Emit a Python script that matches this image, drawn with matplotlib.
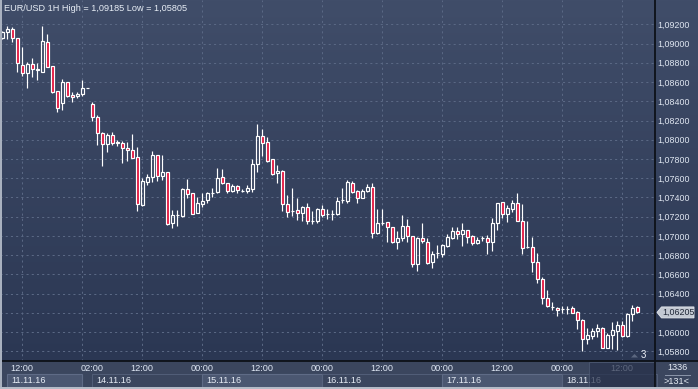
import numpy as np
import matplotlib
matplotlib.use('Agg')
import matplotlib.pyplot as plt
from matplotlib.patches import Rectangle, Polygon
from matplotlib.transforms import blended_transform_factory

plt.rcParams['font.family'] = ['Liberation Sans', 'DejaVu Sans']

# ---------------- data (EUR/USD 1H) ----------------
opens = [1.09054, 1.09117, 1.09151, 1.09054, 1.08777, 1.08690, 1.08784, 1.08735, 1.08708, 1.09013,
         1.08767, 1.08507, 1.08378, 1.08597, 1.08465, 1.08451, 1.08472, 1.08538, 1.08371, 1.08233,
         1.08066, 1.07952, 1.08049, 1.07973, 1.07969, 1.07910, 1.07893, 1.07817, 1.07321, 1.07564,
         1.07609, 1.07841, 1.07626, 1.07661, 1.07130, 1.07217, 1.07210, 1.07487, 1.07442, 1.07241,
         1.07331, 1.07373, 1.07449, 1.07453, 1.07609, 1.07546, 1.07470, 1.07519, 1.07470, 1.07463,
         1.07491, 1.07744, 1.08039, 1.07973, 1.07796, 1.07650, 1.07675, 1.07328, 1.07259, 1.07269,
         1.07234, 1.07297, 1.07155, 1.07158, 1.07276, 1.07224, 1.07224, 1.07224, 1.07370, 1.07367,
         1.07546, 1.07467, 1.07397, 1.07463, 1.07505, 1.07033, 1.07130, 1.07141, 1.07089, 1.06933,
         1.06974, 1.07103, 1.06999, 1.06704, 1.06974, 1.06940, 1.06725, 1.06818, 1.06811, 1.06898,
         1.06981, 1.07051, 1.07016, 1.07061, 1.06999, 1.06922, 1.06974, 1.06981, 1.06933, 1.07130,
         1.07349, 1.07224, 1.07279, 1.07338, 1.07155, 1.06884, 1.06888, 1.06732, 1.06548, 1.06357,
         1.06264, 1.06253, 1.06236, 1.06236, 1.06246, 1.06205, 1.06125, 1.05924, 1.05962, 1.06014,
         1.06045, 1.05837, 1.05969, 1.06014, 1.06073, 1.05962, 1.06184, 1.06257]
highs = [1.09131, 1.09185, 1.09169, 1.09061, 1.08968, 1.08812, 1.08853, 1.08794, 1.09180, 1.09099,
         1.08767, 1.08507, 1.08631, 1.08597, 1.08493, 1.08493, 1.08621, 1.08538, 1.08389, 1.08257,
         1.08084, 1.08066, 1.08077, 1.07997, 1.07987, 1.07980, 1.08056, 1.07921, 1.07598, 1.07640,
         1.07882, 1.07841, 1.07841, 1.07661, 1.07269, 1.07269, 1.07494, 1.07591, 1.07442, 1.07408,
         1.07442, 1.07459, 1.07501, 1.07709, 1.07692, 1.07546, 1.07539, 1.07529, 1.07484, 1.07529,
         1.07796, 1.08164, 1.08108, 1.08025, 1.07796, 1.07737, 1.07685, 1.07425, 1.07494, 1.07390,
         1.07311, 1.07338, 1.07259, 1.07286, 1.07321, 1.07276, 1.07269, 1.07401, 1.07494, 1.07581,
         1.07574, 1.07477, 1.07484, 1.07539, 1.07553, 1.07283, 1.07283, 1.07141, 1.07089, 1.07054,
         1.07217, 1.07172, 1.06999, 1.06992, 1.07130, 1.06974, 1.06846, 1.06905, 1.06912, 1.07016,
         1.07096, 1.07089, 1.07130, 1.07061, 1.07009, 1.06992, 1.06999, 1.07009, 1.07189, 1.07338,
         1.07349, 1.07321, 1.07373, 1.07442, 1.07328, 1.07155, 1.06992, 1.06818, 1.06576, 1.06437,
         1.06309, 1.06264, 1.06274, 1.06274, 1.06274, 1.06219, 1.06132, 1.06038, 1.06038, 1.06080,
         1.06056, 1.05986, 1.06108, 1.06115, 1.06115, 1.06194, 1.06281, 1.06271]
lows = [1.09047, 1.09047, 1.09020, 1.08701, 1.08666, 1.08534, 1.08656, 1.08621, 1.08708, 1.08760,
        1.08482, 1.08292, 1.08309, 1.08448, 1.08389, 1.08430, 1.08458, 1.08537, 1.08194, 1.07945,
        1.07722, 1.07876, 1.07945, 1.07938, 1.07761, 1.07782, 1.07806, 1.07258, 1.07314, 1.07529,
        1.07564, 1.07574, 1.07581, 1.07113, 1.07078, 1.07106, 1.07200, 1.07397, 1.07224, 1.07234,
        1.07303, 1.07345, 1.07408, 1.07442, 1.07539, 1.07442, 1.07460, 1.07442, 1.07460, 1.07449,
        1.07460, 1.07668, 1.07834, 1.07772, 1.07633, 1.07553, 1.07262, 1.07193, 1.07207, 1.07165,
        1.07158, 1.07120, 1.07120, 1.07130, 1.07200, 1.07172, 1.07165, 1.07214, 1.07345, 1.07345,
        1.07442, 1.07345, 1.07390, 1.07456, 1.06981, 1.07019, 1.07113, 1.06940, 1.06922, 1.06860,
        1.06950, 1.06940, 1.06680, 1.06639, 1.06922, 1.06707, 1.06669, 1.06766, 1.06784, 1.06888,
        1.06967, 1.06967, 1.06898, 1.06922, 1.06905, 1.06912, 1.06947, 1.06808, 1.06846, 1.07061,
        1.07189, 1.07141, 1.07252, 1.07155, 1.06808, 1.06870, 1.06628, 1.06506, 1.06288, 1.06264,
        1.06229, 1.06170, 1.06194, 1.06187, 1.06194, 1.06028, 1.05805, 1.05872, 1.05924, 1.05952,
        1.05830, 1.05830, 1.05823, 1.05813, 1.05952, 1.05952, 1.06115, 1.06194]
closes = [1.09117, 1.09148, 1.09054, 1.08794, 1.08690, 1.08784, 1.08732, 1.08728, 1.09027, 1.08760,
          1.08500, 1.08326, 1.08597, 1.08458, 1.08444, 1.08475, 1.08534, 1.08537, 1.08233, 1.08066,
          1.07952, 1.08049, 1.07962, 1.07969, 1.07910, 1.07889, 1.07813, 1.07328, 1.07571, 1.07609,
          1.07841, 1.07626, 1.07661, 1.07123, 1.07217, 1.07213, 1.07487, 1.07432, 1.07231, 1.07338,
          1.07366, 1.07442, 1.07446, 1.07605, 1.07546, 1.07470, 1.07519, 1.07477, 1.07471, 1.07494,
          1.07744, 1.08039, 1.07962, 1.07782, 1.07640, 1.07675, 1.07328, 1.07245, 1.07258, 1.07234,
          1.07304, 1.07155, 1.07156, 1.07276, 1.07214, 1.07225, 1.07224, 1.07363, 1.07371, 1.07561,
          1.07460, 1.07390, 1.07467, 1.07505, 1.07026, 1.07130, 1.07131, 1.07089, 1.06933, 1.06974,
          1.07103, 1.06999, 1.06704, 1.06974, 1.06947, 1.06721, 1.06811, 1.06819, 1.06902, 1.06985,
          1.07051, 1.07016, 1.07061, 1.06992, 1.06922, 1.06957, 1.06975, 1.06933, 1.07130, 1.07338,
          1.07224, 1.07286, 1.07338, 1.07155, 1.06870, 1.06885, 1.06725, 1.06548, 1.06350, 1.06271,
          1.06263, 1.06225, 1.06237, 1.06236, 1.06201, 1.06121, 1.05924, 1.05969, 1.06014, 1.06045,
          1.05837, 1.05969, 1.06021, 1.06073, 1.05962, 1.06184, 1.06246, 1.06205]

price_ticks = [1.058, 1.060, 1.062, 1.064, 1.066, 1.068, 1.070, 1.072, 1.074, 1.076,
               1.078, 1.080, 1.082, 1.084, 1.086, 1.088, 1.090, 1.092]
# the 1,06200 label is covered by the current-price tag in the reference
price_labels = ['1,05800', '1,06000', '', '1,06400', '1,06600', '1,06800', '1,07000',
                '1,07200', '1,07400', '1,07600', '1,07800', '1,08000', '1,08200', '1,08400',
                '1,08600', '1,08800', '1,09000', '1,09200']
grid_bars = [4, 16, 28, 40, 52, 64, 76, 88, 100, 112, 124]
time_bars = [4, 18, 28, 40, 52, 64, 76, 88, 100, 112, 124]
time_labels = ['12:00', '02:00', '12:00', '00:00', '12:00', '00:00', '12:00', '00:00',
               '12:00', '00:00', '12:00']
day_labels = ['11.11.16', '14.11.16', '15.11.16', '16.11.16', '17.11.16', '18.11.16']
day_start = [1, 18, 40, 64, 88, 112]
day_end = [16, 40, 64, 88, 112, 131]
title = 'EUR/USD 1H High = 1,09185 Low = 1,05805'

# ---------------- figure layout (pixel based) ----------------
W, H = 698, 389
PLOT_R, PLOT_B = 655, 361
fig = plt.figure(figsize=(W / 100, H / 100), dpi=100)

bg = fig.add_axes([0, 0, 1, 1], zorder=0)
grad = np.linspace(0, 1, 256)[:, None, None]
top_c = np.array([64, 77, 105]) / 255
bot_c = np.array([43, 55, 83]) / 255
img = top_c + (bot_c - top_c) * grad
bg.imshow(img, extent=[0, W, PLOT_B, 0], aspect='auto', zorder=0, interpolation='bilinear')
bg.add_patch(Rectangle((0, PLOT_B), W, H - PLOT_B, facecolor='#3b465e', edgecolor='none', zorder=1))
bg.set_xlim(0, W)
bg.set_ylim(H, 0)
bg.axis('off')

ax = fig.add_axes([0, (H - PLOT_B) / H, PLOT_R / W, PLOT_B / H], zorder=1)
ax.set_facecolor('none')
ax.set_xlim(-0.4, 130.6)
ax.set_ylim(1.05700, 1.094526)
for s in ax.spines.values():
    s.set_visible(False)
ax.set_xticks(grid_bars)
ax.set_yticks(price_ticks)
ax.set_yticklabels(price_labels)
ax.yaxis.tick_right()
ax.tick_params(axis='x', length=0, labelbottom=False)
ax.tick_params(axis='y', length=0, pad=2, labelsize=6.4, labelcolor='#dfe6f1')
ax.grid(True, color='#5a6884', linestyle=(0, (2, 3)), linewidth=0.75)
ax.set_axisbelow(True)

# candles
idx = np.arange(len(opens))
o = np.array(opens); h = np.array(highs); l = np.array(lows); c = np.array(closes)
body_top = np.maximum(o, c)
body_bot = np.minimum(o, c)
ax.vlines(idx, body_top, h, color='white', linewidth=0.85, zorder=3)
ax.vlines(idx, l, body_bot, color='white', linewidth=0.85, zorder=3)
face = ['#e3163f' if cc < oo else 'none' for oo, cc in zip(o, c)]
ax.bar(idx, body_top - body_bot, bottom=body_bot, width=0.6, color=face,
       edgecolor='white', linewidth=0.85, zorder=4)

# ---------------- overlay: axes decorations ----------------
ov = fig.add_axes([0, 0, 1, 1], zorder=3)
ov.set_facecolor('none')
ov.set_xlim(0, W)
ov.set_ylim(H, 0)
ov.axis('off')

bx = blended_transform_factory(ax.transData, ov.transData)

# date boxes
for k, (lab, s, e) in enumerate(zip(day_labels, day_start, day_end)):
    if k % 2 == 0:
        ov.add_patch(Rectangle((s, 374), e - s, 13, transform=bx, facecolor='#4b5771',
                               edgecolor='#5f6b86', linewidth=0.8, zorder=1))
    else:
        ov.add_patch(Rectangle((s, 374), e - s, 13, transform=bx, facecolor='none',
                               edgecolor='#56627c', linewidth=0.6, zorder=1))
    ov.text(s + 0.9, 380.8, lab, transform=bx, ha='left', va='center', fontsize=6.6,
            color='#e6ecf5', zorder=2)

for b, lab in zip(time_bars, time_labels):
    ov.text(b, 368.3, lab, transform=bx, ha='center', va='center', fontsize=6.6,
            color='#e0e8f5', zorder=2)

# dark region on the right of the time scale
ov.add_patch(Rectangle((589, 362), PLOT_R - 589, 27, facecolor='#26304a', alpha=0.7,
                       edgecolor='#56627c', linewidth=0.6, zorder=3))

# separators
ov.plot([PLOT_R, PLOT_R], [0, H], color='#0d1118', linewidth=1.3, zorder=5)
ov.plot([0, W], [PLOT_B, PLOT_B], color='#0d1118', linewidth=1.3, zorder=5)

# title
ov.text(4, 8.5, title, ha='left', va='center', fontsize=6.6, color='#e8eef6', zorder=5)

# current price tag
yd = ax.transData.transform((0, closes[-1]))[1]
ty = ov.transData.inverted().transform((0, yd))[1]
ov.add_patch(Polygon([(657, ty), (661.5, ty - 5.5), (694, ty - 5.5), (694, ty + 5.5), (661.5, ty + 5.5)],
                     closed=True, facecolor='#c3c9d3', edgecolor='#e4e8ee', linewidth=0.6, zorder=6))
ov.text(662, ty + 0.3, f'{closes[-1]:.5f}'.replace('.', ','), ha='left', va='center',
        fontsize=6.4, color='#1e2636', zorder=7)

# bar count marker
ov.add_patch(Polygon([(631, 357.5), (634.5, 354), (638, 357.5)], closed=True,
                     facecolor='#5c6780', edgecolor='none', zorder=5))
ov.text(643, 355.5, '3', ha='center', va='center', fontsize=7, color='#f0f4fa', zorder=5)

# bottom-right box
ov.text(677, 367.5, '1336', ha='center', va='center', fontsize=6.6, color='#e6ecf5', zorder=5)
ov.plot([665, 690], [374.5, 374.5], color='#8c96aa', linewidth=0.7, zorder=5)
ov.text(677, 381, '>131<', ha='center', va='center', fontsize=6.6, color='#e6ecf5', zorder=5)

# outer frame
ov.add_patch(Rectangle((0, 0), 2, H, facecolor='#a9b1bf', edgecolor='none', zorder=8))
ov.add_patch(Rectangle((0, H - 2.5), W, 2.5, facecolor='#b4bbc7', edgecolor='none', zorder=8))

fig.savefig('out.png', dpi=100)
